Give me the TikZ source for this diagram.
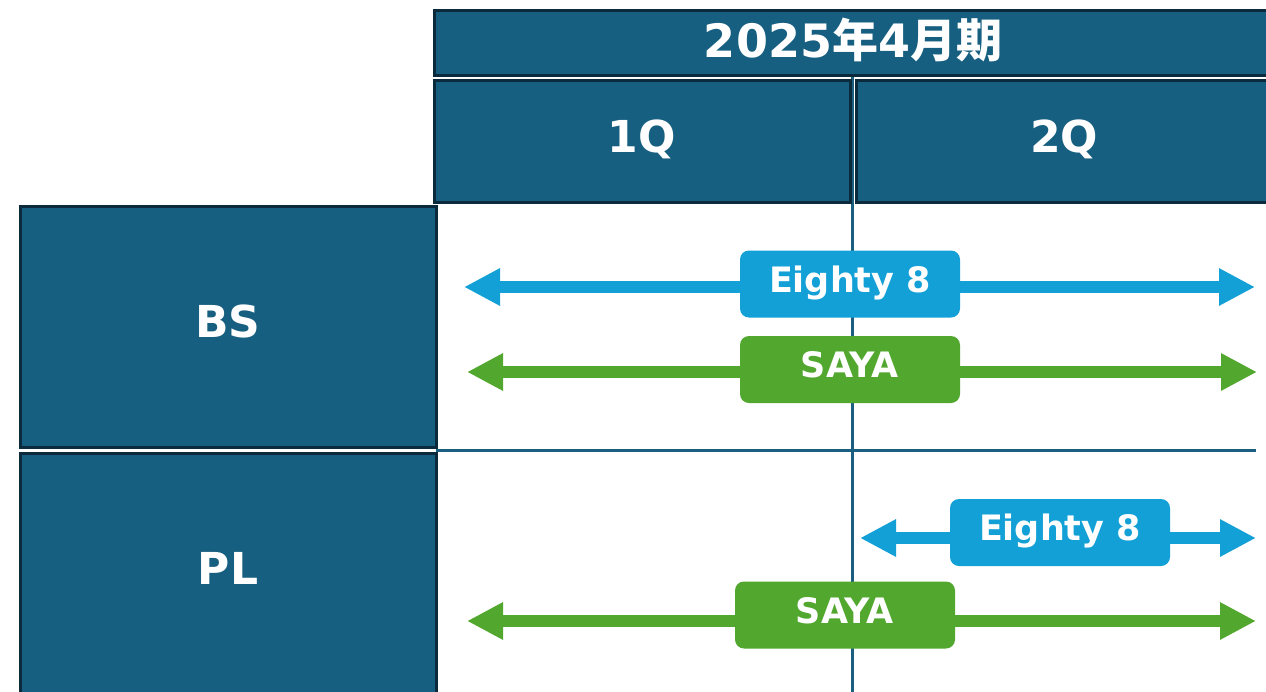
\documentclass[tikz,border=0pt]{standalone}
\usepackage{fontspec}
\setmainfont{DejaVu Sans}
\newfontfamily\jpfont{Noto Sans CJK JP Bold}
\usetikzlibrary{arrows.meta}
\definecolor{navy}{HTML}{175F80}
\definecolor{navyedge}{HTML}{0B2A3B}
\definecolor{rule}{HTML}{1A5E80}
\definecolor{sky}{HTML}{12A0D7}
\definecolor{leaf}{HTML}{52A82F}
\tikzstyle{cell}=[draw=navyedge, line width=3pt, fill=navy, text=white, inner sep=0pt, text depth=10pt, font=\fontsize{44}{50}\selectfont\bfseries]
\tikzstyle{tag}=[rounded corners=9pt, text=white, inner sep=0pt, minimum width=220pt, minimum height=67pt, text height=26pt, text depth=10pt, font=\fontsize{35}{40}\selectfont\bfseries]
\tikzstyle{bar}=[line width=12pt, {Triangle[length=36pt,width=35pt]}-{Triangle[length=36pt,width=35pt]}]

\begin{document}
\begin{tikzpicture}[x=1pt,y=-1pt]
	\useasboundingbox (0,0) rectangle (1266,691);
	% grid lines
	\coordinate (top) at (852,75);
	\coordinate (bottom) at (852,700);
	\coordinate (mid l) at (436,450);
	\coordinate (mid r) at (1256,450);
	\draw [rule, line width=3pt] (top) -- (bottom);
	\draw [rule, line width=3pt] (mid l) -- (mid r);
	% header
	\node [cell, minimum width=838pt, minimum height=65pt, font=\fontsize{46}{52}\selectfont\bfseries] (year) at (853,42.5) {2025{\jpfont 年}4{\jpfont 月期}};
	\node [cell, minimum width=416pt, minimum height=122pt] (q1) at (642,141) {1Q};
	\node [cell, minimum width=416pt, minimum height=122pt] (q2) at (1064,141) {2Q};
	\node [cell, minimum width=416pt, minimum height=241pt] (bs) at (228,326.5) {BS};
	\node [cell, minimum width=416pt, minimum height=241pt] (pl) at (228,573.5) {PL};
	% BS
	\coordinate (bs1 l) at (464,287);
	\coordinate (bs1 r) at (1255,287);
	\coordinate (bs2 l) at (467,372);
	\coordinate (bs2 r) at (1257,372);
	\draw [bar, sky] (bs1 l) -- (bs1 r);
	\draw [bar, leaf] (bs2 l) -- (bs2 r);
	\node [tag, fill=sky] (bs eighty) at (850,284) {Eighty 8};
	\node [tag, fill=leaf] (bs saya) at (850,369.5) {SAYA};
	% PL
	\coordinate (pl1 l) at (860,538);
	\coordinate (pl1 r) at (1256,538);
	\coordinate (pl2 l) at (467,621);
	\coordinate (pl2 r) at (1256,621);
	\draw [bar, sky] (pl1 l) -- (pl1 r);
	\draw [bar, leaf] (pl2 l) -- (pl2 r);
	\node [tag, fill=sky] (pl eighty) at (1060,532.5) {Eighty 8};
	\node [tag, fill=leaf] (pl saya) at (845,615) {SAYA};
\end{tikzpicture}
\end{document}
